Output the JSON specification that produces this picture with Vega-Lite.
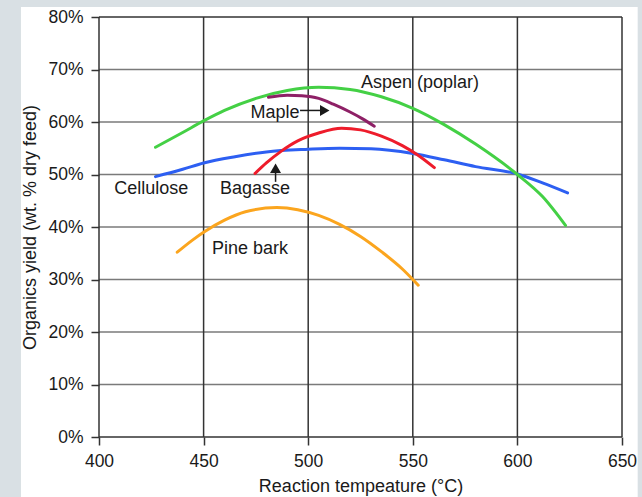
{
  "$schema": "https://vega.github.io/schema/vega-lite/v6.json",
  "width": 523,
  "height": 420,
  "autosize": {"type": "none"},
  "padding": {"left": 99, "top": 17, "right": 20, "bottom": 60},
  "background": "#ffffff",
  "config": {
    "font": "Liberation Sans",
    "view": {"stroke": null},
    "axis": {
      "grid": false,
      "domain": false,
      "labelFlush": false,
      "tickSize": 8,
      "tickWidth": 1.5,
      "tickColor": "#333333",
      "labelFont": "Liberation Sans",
      "labelFontSize": 17.5,
      "labelColor": "#1a1a1a",
      "titleFont": "Liberation Sans",
      "titleFontSize": 18,
      "titleFontWeight": "normal",
      "titleColor": "#1a1a1a"
    }
  },
  "datasets": {
    "curves": [
      {"series": "Pine bark", "T": 437.4, "v": 35.2},
      {"series": "Pine bark", "T": 445, "v": 37.6},
      {"series": "Pine bark", "T": 450, "v": 39.0},
      {"series": "Pine bark", "T": 460, "v": 41.3},
      {"series": "Pine bark", "T": 470, "v": 42.9},
      {"series": "Pine bark", "T": 485, "v": 43.7},
      {"series": "Pine bark", "T": 495, "v": 43.3},
      {"series": "Pine bark", "T": 505, "v": 42.2},
      {"series": "Pine bark", "T": 515, "v": 40.5},
      {"series": "Pine bark", "T": 525, "v": 38.2},
      {"series": "Pine bark", "T": 535, "v": 35.3},
      {"series": "Pine bark", "T": 545, "v": 32.0},
      {"series": "Pine bark", "T": 550, "v": 30.0},
      {"series": "Pine bark", "T": 552.6, "v": 28.9},

      {"series": "Cellulose", "T": 427, "v": 49.6},
      {"series": "Cellulose", "T": 440, "v": 51.0},
      {"series": "Cellulose", "T": 450, "v": 52.2},
      {"series": "Cellulose", "T": 465, "v": 53.4},
      {"series": "Cellulose", "T": 480, "v": 54.3},
      {"series": "Cellulose", "T": 500, "v": 54.8},
      {"series": "Cellulose", "T": 515, "v": 55.0},
      {"series": "Cellulose", "T": 530, "v": 54.9},
      {"series": "Cellulose", "T": 550, "v": 54.0},
      {"series": "Cellulose", "T": 565, "v": 52.8},
      {"series": "Cellulose", "T": 580, "v": 51.5},
      {"series": "Cellulose", "T": 600, "v": 50.1},
      {"series": "Cellulose", "T": 612, "v": 48.4},
      {"series": "Cellulose", "T": 624, "v": 46.5},

      {"series": "Bagasse", "T": 474.6, "v": 50.2},
      {"series": "Bagasse", "T": 480, "v": 52.2},
      {"series": "Bagasse", "T": 487, "v": 54.4},
      {"series": "Bagasse", "T": 495, "v": 56.4},
      {"series": "Bagasse", "T": 505, "v": 57.9},
      {"series": "Bagasse", "T": 516, "v": 58.8},
      {"series": "Bagasse", "T": 525, "v": 58.5},
      {"series": "Bagasse", "T": 535, "v": 57.3},
      {"series": "Bagasse", "T": 545, "v": 55.5},
      {"series": "Bagasse", "T": 552, "v": 53.8},
      {"series": "Bagasse", "T": 560.3, "v": 51.3},

      {"series": "Aspen (poplar)", "T": 427, "v": 55.2},
      {"series": "Aspen (poplar)", "T": 440, "v": 58.0},
      {"series": "Aspen (poplar)", "T": 450, "v": 60.2},
      {"series": "Aspen (poplar)", "T": 460, "v": 62.2},
      {"series": "Aspen (poplar)", "T": 475, "v": 64.5},
      {"series": "Aspen (poplar)", "T": 490, "v": 66.0},
      {"series": "Aspen (poplar)", "T": 505, "v": 66.6},
      {"series": "Aspen (poplar)", "T": 520, "v": 66.2},
      {"series": "Aspen (poplar)", "T": 535, "v": 64.8},
      {"series": "Aspen (poplar)", "T": 550, "v": 62.6},
      {"series": "Aspen (poplar)", "T": 565, "v": 59.5},
      {"series": "Aspen (poplar)", "T": 580, "v": 55.8},
      {"series": "Aspen (poplar)", "T": 600, "v": 50.0},
      {"series": "Aspen (poplar)", "T": 612, "v": 45.8},
      {"series": "Aspen (poplar)", "T": 623, "v": 40.3},

      {"series": "Maple", "T": 481, "v": 64.7},
      {"series": "Maple", "T": 490, "v": 65.1},
      {"series": "Maple", "T": 497, "v": 65.0},
      {"series": "Maple", "T": 505, "v": 64.5},
      {"series": "Maple", "T": 512, "v": 63.4},
      {"series": "Maple", "T": 520, "v": 61.9},
      {"series": "Maple", "T": 526, "v": 60.6},
      {"series": "Maple", "T": 531.6, "v": 59.2}
    ],
    "labels": [
      {"text": "Aspen (poplar)", "T": 553.4, "v": 67.4},
      {"text": "Maple", "T": 484.1, "v": 61.8},
      {"text": "Cellulose", "T": 425, "v": 47.2},
      {"text": "Bagasse", "T": 474.6, "v": 47.2},
      {"text": "Pine bark", "T": 472.2, "v": 35.8}
    ],
    "arrows": [
      {"name": "Maple", "T": 496.1, "v": 62.2, "T2": 506.0, "v2": 62.2},
      {"name": "Bagasse", "T": 484.4, "v": 48.6, "T2": 484.4, "v2": 50.5}
    ],
    "heads": [
      {"name": "Maple", "T": 507.9, "v": 62.2, "dir": "right"},
      {"name": "Bagasse", "T": 484.4, "v": 51.2, "dir": "up"}
    ],
    "slideEdges": [
      {"side": "left", "T": 352.0, "T2": 362.7, "v": 84.0, "v2": -12.5},
      {"side": "top", "T": 352.0, "T2": 661.0, "v": 84.0, "v2": 81.9},
      {"side": "right", "T": 657.5, "T2": 661.0, "v": 84.0, "v2": -12.5}
    ],
    "xgrid": [{"T": 400}, {"T": 450}, {"T": 500}, {"T": 550}, {"T": 600}, {"T": 650}],
    "ygridInner": [{"v": 10}, {"v": 20}, {"v": 30}, {"v": 40}, {"v": 50}, {"v": 60}, {"v": 70}],
    "yframe": [{"v": 0}, {"v": 80}]
  },
  "encoding": {
    "x": {
      "field": "T", "type": "quantitative",
      "scale": {"domain": [400, 650], "nice": false, "zero": false},
      "axis": {"values": [400, 450, 500, 550, 600, 650], "title": "Reaction tempeature (°C)", "labelPadding": 7, "titlePadding": 8}
    },
    "y": {
      "field": "v", "type": "quantitative",
      "scale": {"domain": [0, 80], "nice": false, "zero": false},
      "axis": {"values": [0, 10, 20, 30, 40, 50, 60, 70, 80], "labelExpr": "datum.value + '%'", "title": "Organics yield (wt. % dry feed)", "labelPadding": 8, "titlePadding": 8}
    }
  },
  "layer": [
    {
      "description": "grey slide margin around the white figure panel",
      "data": {"name": "slideEdges"},
      "mark": {"type": "rect", "fill": "#d9e0e4", "clip": false},
      "encoding": {
        "x2": {"field": "T2"},
        "y2": {"field": "v2"}
      }
    },
    {
      "data": {"name": "ygridInner"},
      "mark": {"type": "rule", "stroke": "#7a7a7a", "strokeWidth": 1.5},
      "encoding": {"x": null}
    },
    {
      "data": {"name": "yframe"},
      "mark": {"type": "rule", "stroke": "#333333", "strokeWidth": 1.5},
      "encoding": {"x": null}
    },
    {
      "data": {"name": "xgrid"},
      "mark": {"type": "rule", "stroke": "#333333", "strokeWidth": 1.5},
      "encoding": {"y": null}
    },
    {
      "data": {"name": "curves"},
      "mark": {"type": "line", "interpolate": "monotone", "strokeWidth": 3, "strokeCap": "round"},
      "encoding": {
        "color": {
          "field": "series", "type": "nominal", "legend": null,
          "scale": {
            "domain": ["Pine bark", "Cellulose", "Bagasse", "Aspen (poplar)", "Maple"],
            "range": ["#fba51e", "#2d5ff2", "#ee1c2b", "#44d045", "#8e2066"]
          }
        },
        "detail": {"field": "series"},
        "order": {"field": "T", "type": "quantitative"}
      }
    },
    {
      "data": {"name": "labels"},
      "mark": {"type": "text", "fontSize": 18, "font": "Liberation Sans", "color": "#1a1a1a", "align": "center", "baseline": "middle"},
      "encoding": {"text": {"field": "text"}}
    },
    {
      "data": {"name": "arrows"},
      "mark": {"type": "rule", "stroke": "#1a1a1a", "strokeWidth": 1.5},
      "encoding": {
        "x2": {"field": "T2"},
        "y2": {"field": "v2"}
      }
    },
    {
      "data": {"name": "heads"},
      "mark": {"type": "point", "filled": true, "color": "#1a1a1a", "size": 120, "opacity": 1},
      "encoding": {
        "shape": {
          "field": "dir", "type": "nominal", "legend": null,
          "scale": {"domain": ["right", "up"], "range": ["triangle-right", "triangle-up"]}
        }
      }
    }
  ]
}
